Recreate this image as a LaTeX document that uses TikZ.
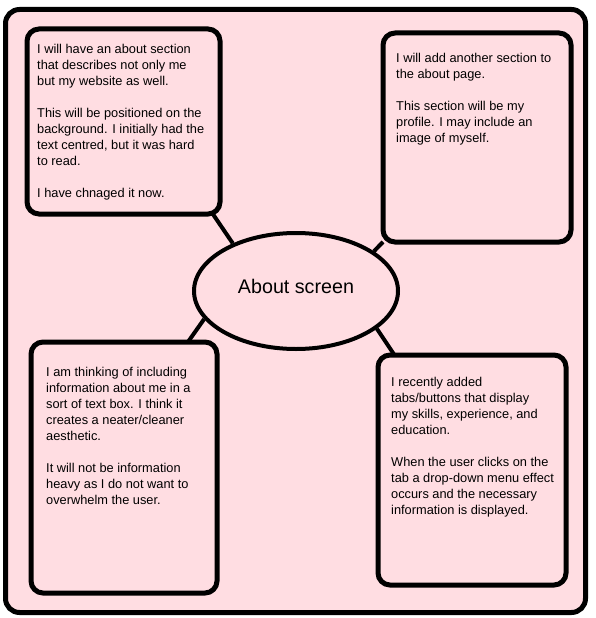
\documentclass[tikz,border=0pt]{standalone}
\usepackage{fontspec}
\setmainfont{Liberation Sans}
\usepackage{xcolor}
\usetikzlibrary{shapes.geometric}
\definecolor{pagepink}{RGB}{255,221,226}
\pgfdeclarelayer{frame}
\pgfdeclarelayer{links}
\pgfsetlayers{frame,links,main}

\tikzset{
	notebox/.style={draw=black, line width=5pt, fill=pagepink, rounded corners=12pt,
		inner sep=0pt, outer sep=0pt, anchor=north west},
	notetext/.style={anchor=north west, inner sep=0pt, align=left,
		font=\fontsize{12.8}{16}\selectfont},
	topic/.style={ellipse, draw=black, line width=4pt, fill=pagepink, inner sep=0pt,
		minimum width=204pt, minimum height=116pt, text height=14pt, text depth=10pt,
		font=\fontsize{19.7}{24}\selectfont},
	link/.style={draw=black, line width=4pt}
}

\begin{document}
\begin{tikzpicture}[x=1pt, y=-1pt]
	\useasboundingbox (0,0) rectangle (595,618);
	
	% page frame
	\begin{pgfonlayer}{frame}
		\fill[white] (0,0) rectangle (595,618);
		\draw[line width=5pt, fill=pagepink, rounded corners=14pt] (5.5,9.5) rectangle (585.5,612.5);
	\end{pgfonlayer}
	
	% centre topic
	\node[topic] (about) at (296,291) {About screen};
	
	% note boxes
	\node[notebox, minimum width=193pt, minimum height=185pt] (tlbox) at (27,29) {};
	\node[notebox, minimum width=188pt, minimum height=209pt] (trbox) at (383,33) {};
	\node[notebox, minimum width=186pt, minimum height=251pt] (blbox) at (31,342) {};
	\node[notebox, minimum width=188pt, minimum height=230pt] (brbox) at (378,355) {};
	
	% note texts (top edge = first baseline - 9)
	\node[notetext] (tltext) at (37,44) {I will have an about section\\
		that describes not only me\\
		but my website as well.\\[16pt]
		This will be positioned on the\\
		background. I initially had the\\
		text centred, but it was hard\\
		to read.\\[16pt]
		I have chnaged it now.};
	\node[notetext] (trtext) at (396,53) {I will add another section to\\
		the about page.\\[16pt]
		This section will be my\\
		profile. I may include an\\
		image of myself.};
	\node[notetext] (bltext) at (46,367) {I am thinking of including\\
		information about me in a\\
		sort of text box. I think it\\
		creates a neater/cleaner\\
		aesthetic.\\[16pt]
		It will not be information\\
		heavy as I do not want to\\
		overwhelm the user.};
	\node[notetext] (brtext) at (391,377) {I recently added\\
		tabs/buttons that display\\
		my skills, experience, and\\
		education.\\[16pt]
		When the user clicks on the\\
		tab a drop-down menu effect\\
		occurs and the necessary\\
		information is displayed.};
	
	% links to the topic
	\begin{pgfonlayer}{links}
		\draw[link] (about.143) -- (tlbox.-46);
		\draw[link] (about.27)  -- (trbox.228);
		\draw[link] (about.197) -- (blbox.63);
		\draw[link] (about.335) -- (brbox.124);
	\end{pgfonlayer}
\end{tikzpicture}
\end{document}
